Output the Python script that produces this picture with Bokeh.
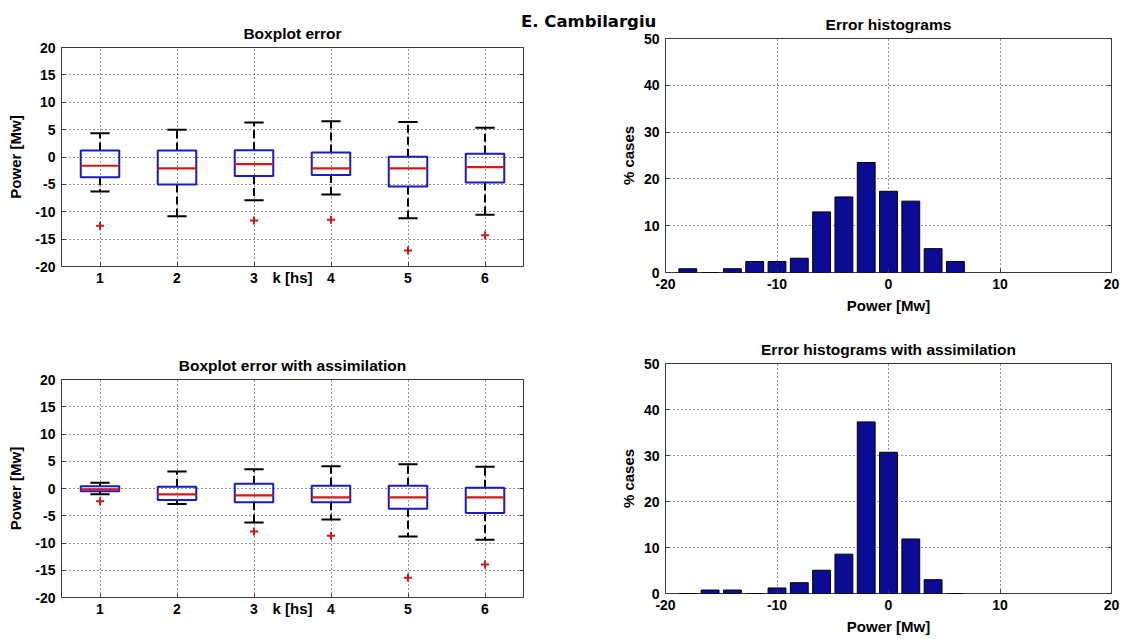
from bokeh.plotting import figure
from bokeh.models import Range1d, FixedTicker, LinearAxis, Div
from bokeh.layouts import row, column
from bokeh.embed import file_html
from bokeh.resources import INLINE

# ---------------- data ----------------
suptitle = "E. Cambilargiu"
k_hours = [1, 2, 3, 4, 5, 6]
k_tick_labels = ["1", "2", "3", "4", "5", "6"]
power_ticks = [-20, -15, -10, -5, 0, 5, 10, 15, 20]
power_tick_labels = ["-20", "-15", "-10", "-5", "0", "5", "10", "15", "20"]

# Boxplot error (no assimilation)
err_upper = [4.36, 4.97, 6.3, 6.55, 6.4, 5.34]
err_q3 = [1.19, 1.19, 1.25, 0.83, 0.05, 0.59]
err_median = [-1.6, -2.09, -1.3, -2.09, -2.09, -1.84]
err_q1 = [-3.68, -5.0, -3.49, -3.31, -5.4, -4.65]
err_lower = [-6.29, -10.8, -7.88, -6.84, -11.2, -10.55]
err_out_k = [1, 3, 4, 5, 6]
err_out_val = [-12.56, -11.59, -11.47, -17.1, -14.3]

# Boxplot error with assimilation
asm_upper = [1.07, 3.1, 3.52, 4.07, 4.44, 4.01]
asm_q3 = [0.4, 0.34, 0.89, 0.52, 0.52, 0.15]
asm_median = [-0.15, -1.07, -1.26, -1.62, -1.62, -1.63]
asm_q1 = [-0.52, -2.11, -2.54, -2.54, -3.71, -4.51]
asm_lower = [-1.07, -2.85, -6.22, -5.67, -8.79, -9.4]
asm_out_k = [1, 3, 4, 5, 6]
asm_out_val = [-2.36, -7.87, -8.67, -16.39, -13.94]

# Histograms (% cases per 2 Mw bin)
bin_centers = [-18, -16, -14, -12, -10, -8, -6, -4, -2, 0, 2, 4, 6]
hist_err = [0.8, 0, 0.8, 2.35, 2.35, 3.05, 12.95, 16.15, 23.5, 17.35, 15.25, 5.1, 2.35]
hist_asm = [0, 0.75, 0.75, 0, 1.2, 2.35, 5.05, 8.55, 37.3, 30.7, 11.85, 3.0, 0]
hist_x_ticks = [-20, -10, 0, 10, 20]
hist_x_labels = ["-20", "-10", "0", "10", "20"]
hist_y_ticks = [0, 10, 20, 30, 40, 50]
hist_y_labels = ["0", "10", "20", "30", "40", "50"]

FONT = "Liberation Sans"
FRAME = "#3a3a3a"
BOX_BLUE = "#1a1ac8"
MED_RED = "#d41818"
BAR_NAVY = "#0b0b96"


def style_axis(ax, ticks, labels, standoff=6):
    ax.ticker = FixedTicker(ticks=ticks)
    ax.major_label_overrides = {t: l for t, l in zip(ticks, labels)}
    ax.major_tick_in = 4
    ax.major_tick_out = 0
    ax.minor_tick_in = 0
    ax.minor_tick_out = 0
    ax.axis_line_color = None
    ax.major_tick_line_color = FRAME
    ax.major_label_text_font = FONT
    ax.major_label_text_font_style = "bold"
    ax.major_label_text_font_size = "14px"
    ax.major_label_text_color = "black"
    ax.major_label_standoff = standoff
    ax.axis_label_text_font = FONT
    ax.axis_label_text_font_style = "bold"
    ax.axis_label_text_font_size = "15px"
    ax.axis_label_text_color = "black"


def dummy_right(p, ticks):
    ax = LinearAxis(ticker=FixedTicker(ticks=ticks))
    ax.major_label_overrides = {t: "" for t in ticks}
    ax.major_label_text_font_size = "0px"
    ax.major_label_standoff = 0
    ax.major_tick_in = 4
    ax.major_tick_out = 0
    ax.minor_tick_in = 0
    ax.minor_tick_out = 0
    ax.axis_line_color = None
    ax.major_tick_line_color = FRAME
    p.add_layout(ax, "right")


def make_fig(title, w, h, xr, yr, mbl, mbr, mbt, mbb):
    p = figure(width=w, height=h, x_range=Range1d(*xr), y_range=Range1d(*yr),
               output_backend="svg", toolbar_location=None, title=title,
               min_border_left=mbl, min_border_right=mbr,
               min_border_top=mbt, min_border_bottom=mbb)
    p.title.align = "center"
    p.title.text_font = FONT
    p.title.text_font_style = "bold"
    p.title.text_font_size = "15.5px"
    p.title.text_color = "black"
    p.title.standoff = 11
    p.outline_line_color = FRAME
    p.outline_line_width = 1
    p.background_fill_color = "white"
    p.border_fill_color = "white"
    for g in (p.xgrid[0], p.ygrid[0]):
        g.grid_line_color = "black"
        g.grid_line_dash = "1 3"
        g.grid_line_width = 1
        g.grid_line_alpha = 0.85
    return p


def boxplot(p, upper, q3, med, q1, lower, out_k, out_val):
    half = 0.25
    cap = 0.125
    p.segment(x0=k_hours, y0=q3, x1=k_hours, y1=upper, line_color="black",
              line_width=2, line_dash="8 4")
    p.segment(x0=k_hours, y0=q1, x1=k_hours, y1=lower, line_color="black",
              line_width=2, line_dash="8 4")
    p.segment(x0=[k - cap for k in k_hours], y0=upper, x1=[k + cap for k in k_hours],
              y1=upper, line_color="black", line_width=2)
    p.segment(x0=[k - cap for k in k_hours], y0=lower, x1=[k + cap for k in k_hours],
              y1=lower, line_color="black", line_width=2)
    p.vbar(x=k_hours, width=2 * half, top=q3, bottom=q1, fill_alpha=0,
           line_color=BOX_BLUE, line_width=2)
    p.segment(x0=[k - half for k in k_hours], y0=med, x1=[k + half for k in k_hours],
              y1=med, line_color=MED_RED, line_width=2.2)
    p.scatter(x=out_k, y=out_val, marker="cross", size=8, line_color=MED_RED,
              line_width=2)


def box_fig(title, h, mbt, mbb, data):
    p = make_fig(title, 524, h, (0.5, 6.5), (-20, 20), 61, 1, mbt, mbb)
    style_axis(p.xaxis[0], k_hours, k_tick_labels)
    style_axis(p.yaxis[0], power_ticks, power_tick_labels)
    p.xaxis[0].axis_label = "k [hs]"
    p.xaxis[0].axis_label_standoff = -17
    p.yaxis[0].axis_label = "Power [Mw]"
    p.yaxis[0].axis_label_standoff = 8
    dummy_right(p, power_ticks)
    boxplot(p, *data)
    return p


def hist_fig(title, h, mbt, mbb, vals):
    p = make_fig(title, 607, h, (-20, 20), (0, 50), 141, 20, mbt, mbb)
    style_axis(p.xaxis[0], hist_x_ticks, hist_x_labels)
    style_axis(p.yaxis[0], hist_y_ticks, hist_y_labels)
    p.xaxis[0].axis_label = "Power [Mw]"
    p.xaxis[0].axis_label_standoff = 5
    p.yaxis[0].axis_label = "% cases"
    p.yaxis[0].axis_label_standoff = 4
    dummy_right(p, hist_y_ticks)
    p.vbar(x=bin_centers, width=1.6, top=vals, bottom=0, fill_color=BAR_NAVY,
           line_color="black", line_width=1)
    return p


tl = box_fig("Boxplot error", 331, 47, 65,
             (err_upper, err_q3, err_median, err_q1, err_lower, err_out_k, err_out_val))
bl = box_fig("Boxplot error with assimilation", 291, 48, 25,
             (asm_upper, asm_q3, asm_median, asm_q1, asm_lower, asm_out_k, asm_out_val))
tr = hist_fig("Error histograms", 322, 38, 50, hist_err)
br = hist_fig("Error histograms with assimilation", 315, 41, 40, hist_asm)

title_div = Div(text=suptitle, styles={
    "position": "absolute", "left": "516px", "top": "7px", "z-index": "10",
    "font-family": "DejaVu Sans", "font-weight": "bold", "font-size": "16.5px",
    "color": "black", "white-space": "nowrap", "line-height": "20px"})

layout = column(title_div, row(column(tl, bl), column(tr, br)))

open("out.html", "w").write(file_html(layout, INLINE))
